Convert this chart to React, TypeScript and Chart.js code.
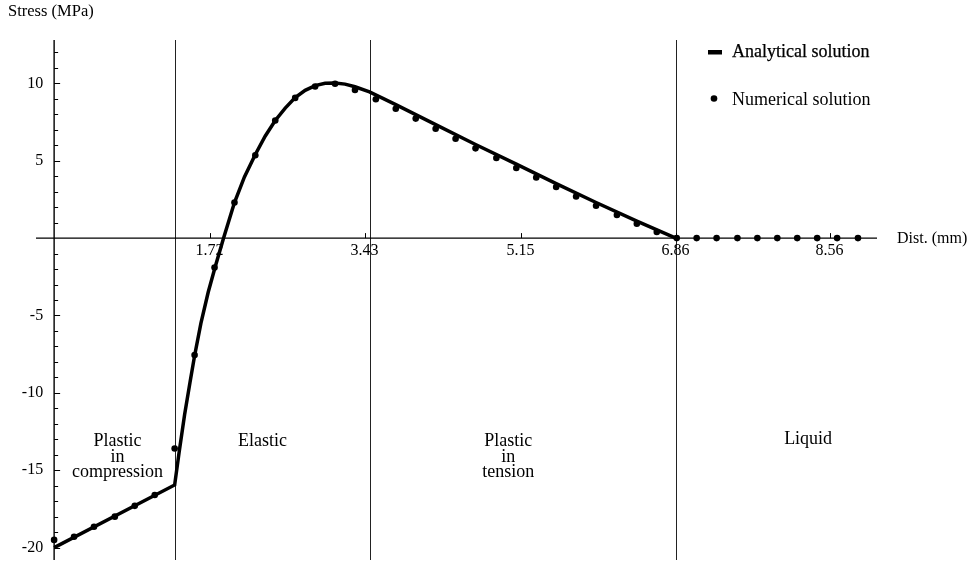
import React, { useEffect, useRef } from "react";
import { Chart, registerables } from "chart.js";

Chart.register(...registerables);

// Numerical solution: nodal positions (mm) and stresses (MPa)
const numericalX = [
  0, 0.22, 0.44, 0.67, 0.89, 1.11, 1.33, 1.55, 1.77, 1.99, 2.22, 2.44, 2.66, 2.88,
  3.1, 3.32, 3.55, 3.77, 3.99, 4.21, 4.43, 4.65, 4.88, 5.1, 5.32, 5.54, 5.76, 5.98,
  6.21, 6.43, 6.65, 6.87, 7.09, 7.31, 7.54, 7.76, 7.98, 8.2, 8.42, 8.64, 8.87,
];
const numericalY = [
  -19.5, -19.3, -18.65, -18.0, -17.3, -16.6, -13.6, -7.55, -1.9, 2.3, 5.35, 7.6, 9.06, 9.8,
  9.97, 9.57, 8.97, 8.36, 7.72, 7.07, 6.42, 5.8, 5.18, 4.53, 3.92, 3.3, 2.69, 2.09,
  1.49, 0.93, 0.39, 0, 0, 0, 0, 0, 0, 0, 0, 0, 0,
];

// Analytical solution
const analyticalX = [
  0, 1.33, 1.38, 1.44, 1.5, 1.55, 1.62, 1.7, 1.78, 1.87, 1.99, 2.1, 2.22, 2.33, 2.44, 2.55,
  2.66, 2.77, 2.88, 2.99, 3.1, 3.21, 3.32, 3.48, 3.77, 4.21, 4.65, 5.1, 5.54, 5.98, 6.43, 6.86,
];
const analyticalY = [
  -20, -15.95, -13.8, -11.4, -9.3, -7.6, -5.5, -3.5, -1.8, 0, 2.3, 3.95, 5.4, 6.6, 7.6, 8.4,
  9.08, 9.55, 9.85, 10.0, 10.02, 9.95, 9.78, 9.45, 8.62, 7.33, 6.05, 4.78, 3.52, 2.3, 1.1, 0,
];

// Axis ticks
const xTickValues = [1.72, 3.43, 5.15, 6.86, 8.56];
const xTickLabels = ["1.72", "3.43", "5.15", "6.86", "8.56"];
const yTickValues = [10, 5, -5, -10, -15, -20];

// Zone boundaries (mm) and zone captions
const zoneBounds = [1.33, 3.48, 6.86];
const zoneLabels = [["Plastic", "in", "compression"], ["Elastic"], ["Plastic", "in", "tension"], ["Liquid"]];
const zoneLabelX = [0.7, 2.3, 5.01, 8.32];
const zoneLabelY = [-13.45, -13.45, -13.45, -13.3];

const xAxisTitle = "Dist. (mm)";
const yAxisTitle = "Stress (MPa)";
const legendLabels = ["Analytical solution", "Numerical solution"];

const SERIF = '"Liberation Serif", "Times New Roman", serif';

const axesPlugin = {
  id: "stressAxes",
  beforeDatasetsDraw(chart: any) {
    const { ctx, chartArea } = chart;
    const xs = chart.scales.x;
    const ys = chart.scales.y;
    const x0 = xs.getPixelForValue(0);
    const y0 = ys.getPixelForValue(0);
    ctx.save();

    // zone boundaries
    ctx.strokeStyle = "#222";
    ctx.lineWidth = 1;
    for (const b of zoneBounds) {
      const px = Math.round(xs.getPixelForValue(b)) + 0.5;
      ctx.beginPath();
      ctx.moveTo(px, chartArea.top);
      ctx.lineTo(px, chartArea.bottom);
      ctx.stroke();
    }

    // axes
    ctx.strokeStyle = "#000";
    ctx.lineWidth = 1.4;
    ctx.beginPath();
    ctx.moveTo(chartArea.left, y0);
    ctx.lineTo(chartArea.right, y0);
    ctx.moveTo(x0, chartArea.top);
    ctx.lineTo(x0, chartArea.bottom);
    ctx.stroke();

    // y ticks: minor every unit, longer at labelled values
    ctx.lineWidth = 1;
    for (let v = Math.ceil(ys.min); v <= Math.floor(ys.max); v++) {
      if (v === 0) continue;
      const py = Math.round(ys.getPixelForValue(v)) + 0.5;
      const len = yTickValues.includes(v) ? 6 : 4;
      ctx.beginPath();
      ctx.moveTo(x0, py);
      ctx.lineTo(x0 + len, py);
      ctx.stroke();
    }

    ctx.fillStyle = "#000";
    ctx.font = `16px ${SERIF}`;
    ctx.textAlign = "right";
    ctx.textBaseline = "middle";
    for (const v of yTickValues) {
      ctx.fillText(String(v), x0 - 11, ys.getPixelForValue(v));
    }

    // x ticks
    ctx.textAlign = "center";
    ctx.textBaseline = "alphabetic";
    xTickValues.forEach((v, i) => {
      const px = Math.round(xs.getPixelForValue(v)) + 0.5;
      ctx.beginPath();
      ctx.moveTo(px, y0);
      ctx.lineTo(px, y0 - 5);
      ctx.stroke();
      ctx.fillText(xTickLabels[i], px - 1, y0 + 17);
    });

    // axis titles
    ctx.textAlign = "left";
    ctx.font = `16.5px ${SERIF}`;
    ctx.fillText(yAxisTitle, 8, 16);
    ctx.font = `16px ${SERIF}`;
    ctx.textBaseline = "middle";
    ctx.fillText(xAxisTitle, chartArea.right + 20, y0 + 1);

    // zone captions
    ctx.font = `18px ${SERIF}`;
    ctx.textAlign = "center";
    ctx.textBaseline = "alphabetic";
    zoneLabels.forEach((lines, i) => {
      const cx = xs.getPixelForValue(zoneLabelX[i]);
      const top = ys.getPixelForValue(zoneLabelY[i]);
      lines.forEach((t, j) => ctx.fillText(t, cx, top + j * 15.5));
    });

    ctx.restore();
  },
  afterDraw(chart: any) {
    const { ctx, chartArea } = chart;
    const lx = chartArea.right - 169;
    ctx.save();
    ctx.fillStyle = "#000";
    ctx.strokeStyle = "#000";
    ctx.font = `18px ${SERIF}`;
    ctx.textAlign = "left";
    ctx.textBaseline = "alphabetic";
    // analytical: thick dash
    ctx.fillRect(lx, 50, 14, 4.5);
    ctx.fillText(legendLabels[0], lx + 24, 57);
    ctx.lineWidth = 0.25;
    ctx.strokeText(legendLabels[0], lx + 24, 57);
    // numerical: dot
    ctx.beginPath();
    ctx.arc(lx + 6, 98.5, 3.3, 0, Math.PI * 2);
    ctx.fill();
    ctx.fillText(legendLabels[1], lx + 24, 105);
    ctx.restore();
  },
};

export default function App() {
  const canvasRef = useRef<HTMLCanvasElement | null>(null);

  useEffect(() => {
    if (!canvasRef.current) return;
    const chart = new Chart(canvasRef.current, {
      type: "scatter",
      data: {
        datasets: [
          {
            label: legendLabels[0],
            data: analyticalX.map((x, i) => ({ x, y: analyticalY[i] })),
            showLine: true,
            borderColor: "#000",
            borderWidth: 3.5,
            pointRadius: 0,
            tension: 0,
            order: 2,
          },
          {
            label: legendLabels[1],
            data: numericalX.map((x, i) => ({ x, y: numericalY[i] })),
            showLine: false,
            backgroundColor: "#000",
            borderWidth: 0,
            pointRadius: 3.3,
            order: 1,
          },
        ],
      },
      options: {
        responsive: false,
        animation: false,
        layout: { padding: { left: 36, right: 99, top: 40, bottom: 5 } },
        plugins: { legend: { display: false }, tooltip: { enabled: false } },
        scales: {
          x: { type: "linear", min: -0.2, max: 9.08, display: false },
          y: { type: "linear", min: -20.8, max: 12.8, display: false },
        },
      },
      plugins: [axesPlugin],
    });
    return () => chart.destroy();
  }, []);

  return (
    <div style={{ position: "absolute", left: 0, top: 0, width: 976, height: 565, background: "#fff" }}>
      <canvas ref={canvasRef} width={976} height={565} style={{ display: "block" }} />
    </div>
  );
}
